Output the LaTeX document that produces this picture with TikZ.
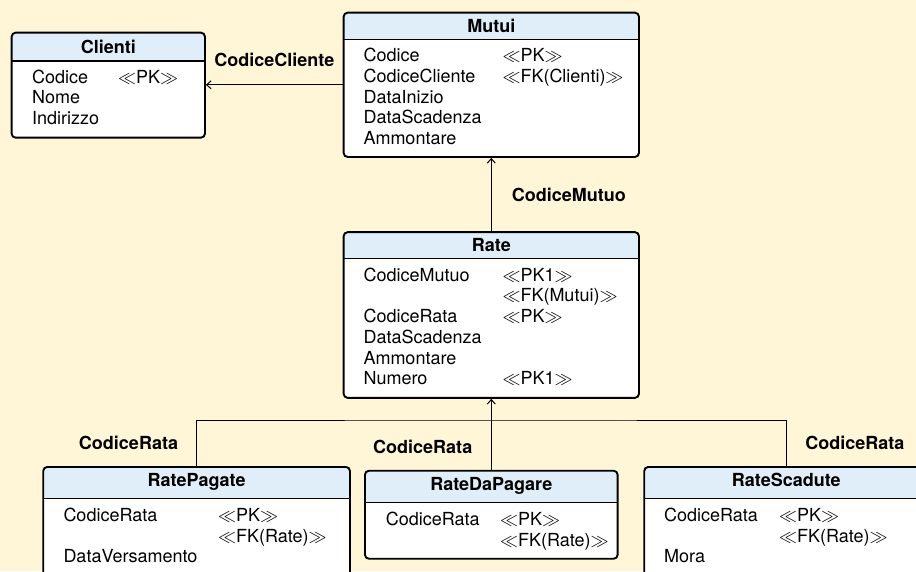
\documentclass[tikz,border=0pt]{standalone}
\usepackage{fix-cm}
\usepackage{fontspec}
\setmainfont{TeX Gyre Heros}
\usetikzlibrary{arrows.meta, positioning}
\definecolor{bgyellow}{RGB}{255,246,216}
\definecolor{hdrblue}{RGB}{224,238,250}
\tikzset{
x=1pt, y=-1pt,
>={Straight Barb[length=4.5pt,width=8pt]},
conn/.style={line width=1pt, draw=black},
table/.style={%
    rectangle,
    rounded corners=4pt,
    draw=black,
    line width=1.9pt,
    fill=white,
    anchor=north west,
    inner sep=0pt,
    path picture={
      \fill[hdrblue, sharp corners] (path picture bounding box.north west)
          rectangle ([yshift=-#1]path picture bounding box.north east);
      \draw[line width=1.5pt, sharp corners] ([yshift=-#1]path picture bounding box.north west)
          -- ([yshift=-#1]path picture bounding box.north east);
    },
},
table/.default=28pt,
title/.style={%
    anchor=base, inner sep=0pt,
    font=\fontsize{18}{21}\selectfont\bfseries
},
attrs/.style={%
    anchor=base west, inner sep=0pt, align=left,
    font=\fontsize{18}{20.7}\selectfont
},
lbl/.style={%
    inner sep=0pt,
    font=\fontsize{18}{21}\selectfont\bfseries
},
}

\begin{document}
\begin{tikzpicture}

\useasboundingbox (0,0) rectangle (916,571);
\fill[bgyellow] (0,0) rectangle (916,571);
\clip (0,0) rectangle (916,571);

% tables
\node[table=28.3pt, minimum width=193.3pt, minimum height=105pt] (clienti) at (10.7,31.7) {};
\node[title] at ([yshift=-21.5pt]clienti.north) {Clienti};
\node[attrs] at ([xshift=21.3pt, yshift=-51.5pt]clienti.north west) {%
  \begin{tabular}[t]{@{}p{86pt}@{}l@{}}
  Codice & $\ll$PK$\gg$\\
  Nome & \\
  Indirizzo &
  \end{tabular}};

\node[table=26.6pt, minimum width=295.3pt, minimum height=144.3pt] (mutui) at (342.7,11.7) {};
\node[title] at ([yshift=-21pt]mutui.north) {Mutui};
\node[attrs] at ([xshift=20.6pt, yshift=-50pt]mutui.north west) {%
  \begin{tabular}[t]{@{}p{139pt}@{}l@{}}
  Codice & $\ll$PK$\gg$\\
  CodiceCliente & $\ll$FK(Clienti)$\gg$\\
  DataInizio & \\
  DataScadenza & \\
  Ammontare &
  \end{tabular}};

\node[table=26.4pt, minimum width=295.3pt, minimum height=165.7pt, below=73.3pt of mutui] (rate) {};
\node[title] at ([yshift=-20.5pt]rate.north) {Rate};
\node[attrs] at ([xshift=20.6pt, yshift=-50pt]rate.north west) {%
  \begin{tabular}[t]{@{}p{139pt}@{}l@{}}
  CodiceMutuo & $\ll$PK1$\gg$\\
   & $\ll$FK(Mutui)$\gg$\\
  CodiceRata & $\ll$PK$\gg$\\
  DataScadenza & \\
  Ammontare & \\
  Numero & $\ll$PK1$\gg$
  \end{tabular}};

\node[table=31.7pt, minimum width=306.7pt, minimum height=120pt] (ratepagate) at (42.3,466) {};
\node[title] at ([yshift=-20.5pt]ratepagate.north) {RatePagate};
\node[attrs] at ([xshift=21pt, yshift=-55.5pt]ratepagate.north west) {%
  \begin{tabular}[t]{@{}p{154.7pt}@{}l@{}}
  CodiceRata & $\ll$PK$\gg$\\
   & $\ll$FK(Rate)$\gg$\\
  DataVersamento &
  \end{tabular}};

\node[table=31.7pt, minimum width=252.7pt, minimum height=88pt, below=71pt of rate] (ratedapagare) {};
\node[title] at ([yshift=-20.5pt]ratedapagare.north) {RateDaPagare};
\node[attrs] at ([xshift=21.7pt, yshift=-55.5pt]ratedapagare.north west) {%
  \begin{tabular}[t]{@{}p{114.3pt}@{}l@{}}
  CodiceRata & $\ll$PK$\gg$\\
   & $\ll$FK(Rate)$\gg$
  \end{tabular}};

\node[table=31.7pt, minimum width=284pt, minimum height=120pt] (ratescadute) at (643.3,466) {};
\node[title] at ([yshift=-20.5pt]ratescadute.north) {RateScadute};
\node[attrs] at ([xshift=20.7pt, yshift=-55.5pt]ratescadute.north west) {%
  \begin{tabular}[t]{@{}p{115pt}@{}l@{}}
  CodiceRata & $\ll$PK$\gg$\\
   & $\ll$FK(Rate)$\gg$\\
  Mora &
  \end{tabular}};

% connectors
\coordinate (bus) at (490,420);

\draw[conn, ->] (mutui.west) -- node[lbl, midway, yshift=25pt] {CodiceCliente} (mutui.west -| clienti.east);
\draw[conn, ->] (rate.north) -- node[lbl, midway, right=20pt] {CodiceMutuo} (mutui.south);
\draw[conn, ->] (ratedapagare.north) -- node[lbl, pos=0.32, left=18.5pt] {CodiceRata} (rate.south);
\draw[conn] (ratepagate.north) |- node[lbl, pos=0.25, left=18pt] {CodiceRata} (bus)
    -| node[lbl, pos=0.75, right=18.5pt] {CodiceRata} (ratescadute.north);

\end{tikzpicture}
\end{document}
